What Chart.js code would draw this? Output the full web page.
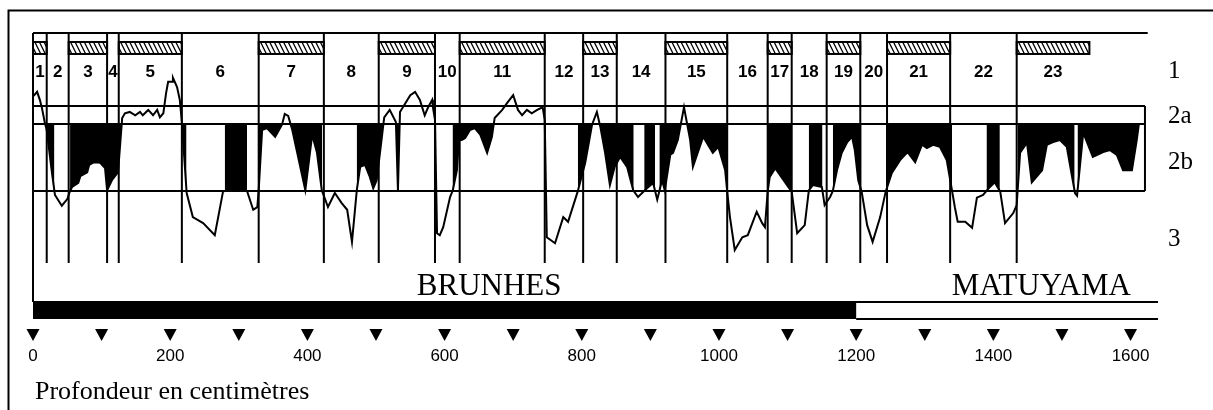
<!DOCTYPE html>
<html>
<head>
<meta charset="utf-8">
<script src="https://cdn.jsdelivr.net/npm/chart.js@4.4.0/dist/chart.umd.min.js"></script>
<style>
  html, body { margin: 0; padding: 0; background: #fff; }
  canvas { display: block; }
</style>
</head>
<body>
<canvas id="myChart" width="1213" height="410"></canvas>
<script>
// profondeur (cm)
const depth = [
  1, 6, 10, 13, 17, 20, 28, 32, 42, 50, 54, 57, 66, 69, 79, 82, 89, 98, 105, 108,
  115, 124, 130, 134, 141, 149, 156, 160, 168, 175, 181, 185, 190, 194, 197, 203, 204, 210, 214, 217,
  224, 233, 248, 265, 277, 287, 302, 312, 321, 327, 329, 334, 341, 353, 363, 367, 372, 378, 397, 407,
  414, 421, 430, 440, 450, 458, 465, 472, 477, 484, 491, 496, 501, 509, 512, 520, 529, 532, 535, 550,
  557, 564, 571, 576, 582, 583, 586, 589, 593, 598, 608, 612, 618, 621, 625, 630, 637, 644, 652, 662,
  669, 673, 684, 691, 700, 707, 713, 720, 727, 735, 743, 746, 749, 761, 773, 780, 794, 805, 815, 822,
  827, 834, 841, 848, 856, 866, 875, 882, 895, 904, 910, 917, 921, 929, 933, 940, 949, 958, 962, 977,
  991, 999, 1009, 1012, 1016, 1023, 1034, 1042, 1055, 1063, 1067, 1071, 1074, 1082, 1101, 1106, 1114, 1125, 1131, 1137,
  1150, 1154, 1162, 1166, 1172, 1179, 1187, 1194, 1198, 1203, 1208, 1216, 1224, 1235, 1243, 1252, 1264, 1275, 1286, 1296,
  1303, 1312, 1322, 1332, 1340, 1344, 1348, 1359, 1369, 1376, 1385, 1395, 1402, 1410, 1417, 1429, 1434, 1439, 1449, 1456,
  1471, 1478, 1487, 1497, 1507, 1519, 1522, 1531, 1545, 1560, 1570, 1580, 1589, 1602, 1609, 1612
];
// signal (unités relatives : 0 = base de 2b, 10 = sommet de 2b)
const signal = [
  14.2, 14.8, 13.6, 12.4, 10.3, 9.1, 2.4, -0.6, -2.2, -1.2, 0, 0.6, 1.2, 2.2, 2.8, 3.9, 4.3, 4.2, 3.4, 0.1,
  1.6, 2.8, 10.9, 11.6, 11.8, 11.3, 11.8, 11.3, 12.1, 11.3, 12.1, 11.0, 11.6, 14.6, 16.3, 16.3, 16.9, 15.5, 13.6, 10.3,
  -0.3, -3.9, -4.8, -6.6, -0.1, 0.3, 0.3, 0, -2.8, -2.4, 0.1, 9.1, 9.4, 8.1, 9.9, 11.5, 11.2, 9.1, 0.1, 8.4,
  5.7, 0.1, -2.4, -0.3, -1.8, -2.8, -7.6, 0.1, 3.6, 3.9, 2.1, 0.4, 1.6, 8.4, 11.0, 12.1, 10.3, 0.1, 11.8, 14.3,
  14.8, 13.6, 11.3, 12.5, 13.6, 12.5, 10.6, -6.3, -6.6, -5.4, -0.9, 0.1, 3.1, 7.6, 7.6, 7.9, 9.1, 9.4, 8.4, 5.7,
  8.1, 10.9, 12.1, 13.1, 14.3, 12.1, 11.3, 12.1, 11.6, 12.1, 12.5, 10.6, -6.9, -7.8, -3.9, -4.6, -0.1, 4.2, 9.9, 11.8,
  9.6, 5.7, 0.9, 3.6, 5.1, 3.6, 0.1, -0.9, 0.4, 1.2, -1.3, 1.6, 0.1, 5.4, 5.7, 7.6, 12.5, 7.6, 3.6, 8.1,
  5.7, 6.6, 3.1, -0.1, -3.9, -8.8, -6.9, -6.6, -3.1, -4.8, -5.4, -0.1, 2.1, 3.4, 0.6, -0.1, -6.3, -5.1, 0.1, 0.9,
  0.6, -2.1, -0.9, 0, 3.1, 5.7, 7.3, 8.1, 6.1, 1.6, -0.1, -5.1, -7.6, -3.9, -0.1, 2.7, 4.6, 5.8, 4.3, 6.9,
  6.4, 6.9, 6.6, 4.6, -0.1, -2.5, -4.6, -4.6, -5.5, -1.0, -0.6, 0.6, 1.3, -0.1, -4.8, -3.3, -2.1, 5.7, 7.2, 1.3,
  3.1, 6.9, 7.3, 7.6, 6.6, -0.3, -0.7, 8.7, 5.1, 5.8, 6.1, 5.4, 3.1, 3.1, 7.6, 9.9
];

// stades isotopiques : limites en cm
const stageBounds = [0, 20, 52, 108, 125, 217, 329, 424, 504, 586, 622, 746, 802, 851, 922, 1012, 1071, 1106, 1157, 1206, 1245, 1337, 1434, 1540];
const stageNames = ['1','2','3','4','5','6','7','8','9','10','11','12','13','14','15','16','17','18','19','20','21','22','23'];
const hatchedStages = ['1','3','5','7','9','11','13','15','17','19','21','23'];

// paléomagnétisme
const chronNames = ['BRUNHES', 'MATUYAMA'];
const chronLabelAt = [665, 1470];
const brunhesBase = 1200;

// niveaux (mêmes unités que le signal)
const lvl = {
  top: 23.58, hatchTop: 22.24, hatchBottom: 20.45, stageLabel: 17.76,
  top2a: 12.69, top2b: 10, base2b: 0, sepBottom: -10.75, chronText: -15.52
};
const rowNames = ['1', '2a', '2b', '3'];
const rowAt = [17.9, 11.2, 4.3, -7.2];
const bandEnd = 1621, topEnd = 1625;

// partie noire : entre le sommet de 2b et la courbe, tant que la courbe reste dans 2b
function blackFill(){
  let out = [];
  for (let i = 0; i < depth.length; i++){
    if (i > 0){
      const pd = depth[i-1], pv = signal[i-1], d = depth[i], v = signal[i];
      let cuts = [];
      [lvl.base2b, lvl.top2b].forEach(L => {
        if ((pv - L) * (v - L) < 0) cuts.push({t: (L - pv) / (v - pv), L: L});
      });
      cuts.sort((a, b) => a.t - b.t);
      cuts.forEach(c => out.push({x: pd + c.t * (d - pd), y: c.L}));
    }
    const v = signal[i];
    out.push({x: depth[i], y: v < 0 ? null : Math.min(v, lvl.top2b)});
  }
  return out;
}

const decor = {
  id: 'decor',
  beforeDatasetsDraw(chart){
    const ctx = chart.ctx, xs = chart.scales.x, ys = chart.scales.y;
    const X = v => xs.getPixelForValue(v), Y = v => ys.getPixelForValue(v);
    ctx.save();
    ctx.strokeStyle = '#000';
    ctx.fillStyle = '#000';
    ctx.lineWidth = 2;

    // cadre
    ctx.strokeRect(8.5, 10.5, 1220, 420);

    ctx.beginPath();
    ctx.moveTo(X(0), Y(lvl.top)); ctx.lineTo(X(topEnd), Y(lvl.top));
    [lvl.top2a, lvl.top2b, lvl.base2b].forEach(l => {
      ctx.moveTo(X(0), Y(l)); ctx.lineTo(X(bandEnd), Y(l));
    });
    ctx.moveTo(X(bandEnd), Y(lvl.top2a)); ctx.lineTo(X(bandEnd), Y(lvl.base2b));
    ctx.moveTo(X(0), Y(lvl.top)); ctx.lineTo(X(0), chart.chartArea.bottom);
    for (let i = 1; i < stageBounds.length - 1; i++){
      ctx.moveTo(X(stageBounds[i]), Y(lvl.top));
      ctx.lineTo(X(stageBounds[i]), Y(lvl.sepBottom));
    }
    ctx.stroke();

    // barres hachurées et numéros
    ctx.font = 'bold 17px "Liberation Sans", Arial, sans-serif';
    ctx.textAlign = 'center';
    ctx.textBaseline = 'middle';
    stageNames.forEach((s, i) => {
      const x0 = X(stageBounds[i]), x1 = X(stageBounds[i+1]);
      ctx.fillText(s, (x0 + x1) / 2, Y(lvl.stageLabel));
      if (hatchedStages.includes(s)){
        const y0 = Y(lvl.hatchTop), y1 = Y(lvl.hatchBottom), h = y1 - y0;
        ctx.save();
        ctx.beginPath(); ctx.rect(x0, y0, x1 - x0, h); ctx.clip();
        ctx.lineWidth = 1.3;
        ctx.beginPath();
        for (let x = x0 - h; x < x1 + h; x += 4.6){
          ctx.moveTo(x, y0); ctx.lineTo(x + h * 0.5, y1);
        }
        ctx.stroke();
        ctx.restore();
        ctx.lineWidth = 2;
        ctx.strokeRect(x0, y0, x1 - x0, h);
      }
    });

    // libellés de droite
    ctx.font = '25px "Liberation Serif", "Times New Roman", serif';
    ctx.textAlign = 'left';
    rowNames.forEach((r, i) => ctx.fillText(r, 1168, Y(rowAt[i])));

    // chrons
    ctx.font = '31px "Liberation Serif", "Times New Roman", serif';
    ctx.textAlign = 'center';
    ctx.textBaseline = 'alphabetic';
    chronNames.forEach((c, i) => ctx.fillText(c, X(chronLabelAt[i]), Y(lvl.chronText)));

    // barre de polarité
    const b = chart.chartArea.bottom;
    ctx.fillRect(X(0), b, X(brunhesBase) - X(0), 17);
    ctx.beginPath();
    ctx.moveTo(X(0), b); ctx.lineTo(xs.right, b);
    ctx.moveTo(X(brunhesBase), b + 17); ctx.lineTo(xs.right, b + 17);
    ctx.stroke();

    // triangles des graduations
    xs.ticks.forEach(t => {
      if (t.value % 100 !== 0) return;
      const x = X(t.value);
      ctx.beginPath();
      ctx.moveTo(x - 6.5, b + 27); ctx.lineTo(x + 6.5, b + 27); ctx.lineTo(x, b + 39);
      ctx.closePath(); ctx.fill();
    });

    ctx.font = '26px "Liberation Serif", "Times New Roman", serif';
    ctx.textAlign = 'left';
    ctx.fillText('Profondeur en centimètres', chart.chartArea.left + 2, 399);
    ctx.restore();
  }
};

new Chart('myChart', {
  type: 'line',
  data: {
    datasets: [
      {
        data: depth.map((d, i) => ({x: d, y: signal[i]})),
        borderColor: '#000', borderWidth: 2, pointRadius: 0, tension: 0, fill: false
      },
      {
        data: blackFill(),
        borderWidth: 0, borderColor: '#000', backgroundColor: '#000',
        pointRadius: 0, tension: 0, spanGaps: false, fill: {value: lvl.top2b}
      }
    ]
  },
  options: {
    responsive: false,
    animation: false,
    layout: { padding: { left: 33, right: 55, top: 33, bottom: 0 } },
    plugins: { legend: { display: false }, tooltip: { enabled: false } },
    scales: {
      x: {
        type: 'linear', min: 0, max: 1640,
        grid: { display: false, drawTicks: false },
        border: { display: false },
        ticks: {
          stepSize: 100, includeBounds: false, autoSkip: false, maxRotation: 0,
          padding: 44, color: '#000',
          font: { family: '"Liberation Sans", Arial, sans-serif', size: 17 },
          callback: v => v % 200 === 0 ? v : ''
        },
        afterFit: s => { s.height = 108; s.paddingLeft = 0; s.paddingRight = 0; }
      },
      y: { display: false, min: -16.57, max: 23.58 }
    }
  },
  plugins: [decor]
});
</script>
</body>
</html>
